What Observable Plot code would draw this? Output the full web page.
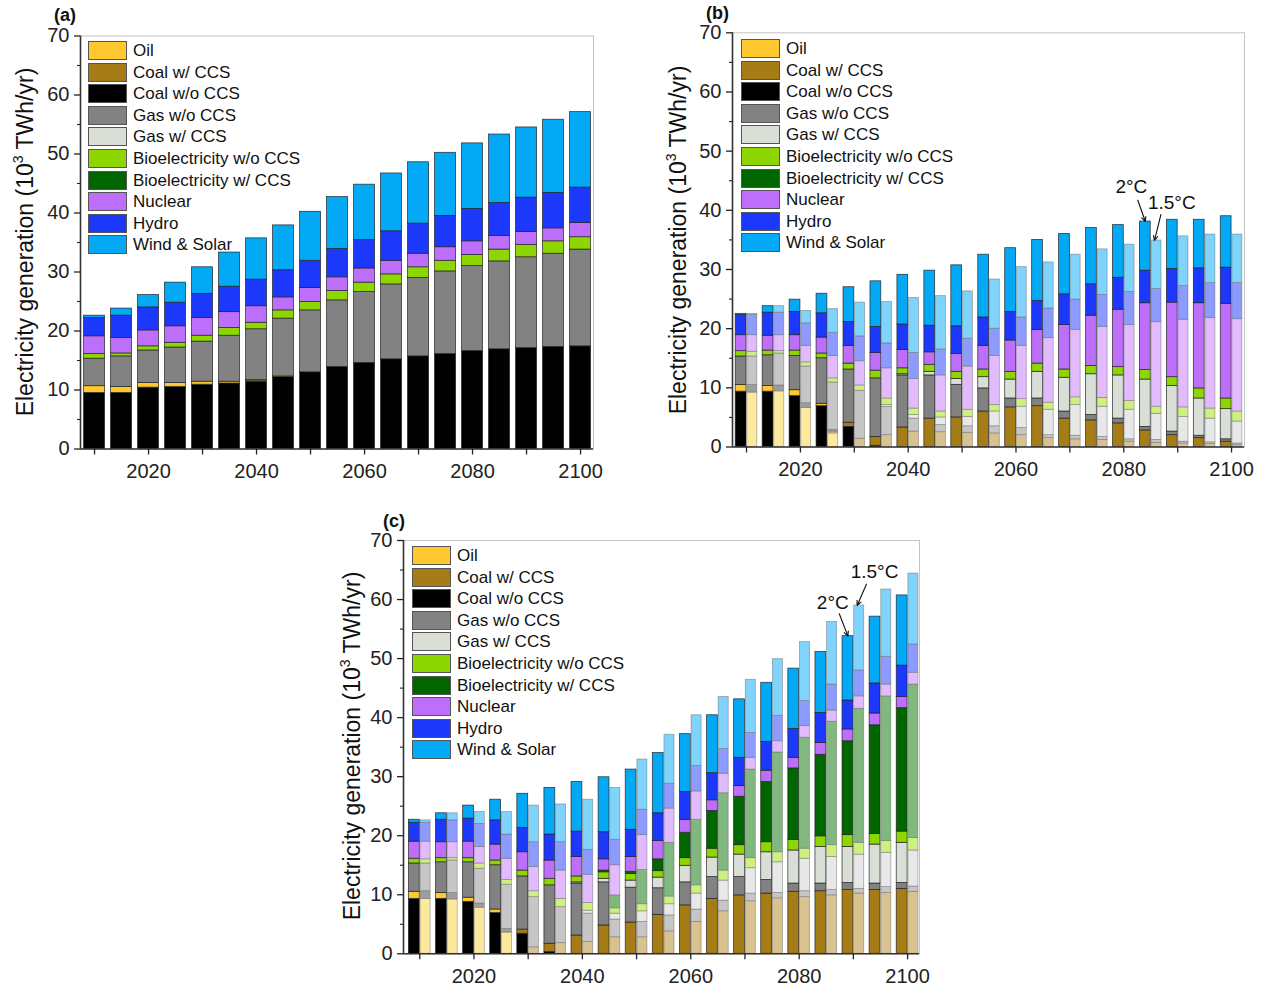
<!DOCTYPE html>
<html>
<head>
<meta charset="utf-8">
<script src="https://cdn.jsdelivr.net/npm/d3@7"></script>
<script src="https://cdn.jsdelivr.net/npm/@observablehq/plot@0.6"></script>
<style>
  body { margin: 0; background: #fff; font-family: "Liberation Sans", Arial, sans-serif; }
  #page { position: relative; width: 1262px; height: 988px; overflow: hidden; background: #fff; }
  .panel { position: absolute; }
  .legend { position: absolute; font-size: 17px; color: #111; }
  .legend .item { position: absolute; left: 0; height: 20px; white-space: nowrap; }
  .legend .sw { position: absolute; left: 0; top: 0; width: 39px; height: 19px; box-sizing: border-box; border: 1px solid #555; }
  .legend .lab { position: absolute; left: 45px; top: -1px; line-height: 21px; }
  .ytitle { position: absolute; font-size: 23px; color: #111; white-space: nowrap; transform: translate(-50%, -50%) rotate(-90deg); }
  .ytitle sup { font-size: 14px; vertical-align: 10px; line-height: 0; }
  .tag { position: absolute; font-size: 18px; font-weight: bold; color: #111; }
</style>
</head>
<body>
<div id="page"></div>
<script>
// Years shown on every panel (one bar, or a pair of bars, per year)
const years = [2010, 2015, 2020, 2025, 2030, 2035, 2040, 2045, 2050, 2055,
               2060, 2065, 2070, 2075, 2080, 2085, 2090, 2095, 2100];

// Legend order (top to bottom)
const legendOrder = ["Oil", "Coal w/ CCS", "Coal w/o CCS", "Gas w/o CCS", "Gas w/ CCS",
  "Bioelectricity w/o CCS", "Bioelectricity w/ CCS", "Nuclear", "Hydro", "Wind & Solar"];

// Stacking order (bottom to top); every data row below follows this column order
const stackOrder = ["Coal w/o CCS", "Coal w/ CCS", "Oil", "Gas w/o CCS", "Gas w/ CCS",
  "Bioelectricity w/o CCS", "Bioelectricity w/ CCS", "Nuclear", "Hydro", "Wind & Solar"];

// (a) baseline generation, 10^3 TWh/yr
const baselineMix = [
  [9.5, 0, 1.15, 4.65, 0, 0.8, 0, 3.0, 3.1, 0.4],
  [9.5, 0, 1.0, 5.2, 0, 0.5, 0, 2.6, 3.8, 1.2],
  [10.4, 0, 0.8, 5.5, 0, 0.7, 0, 2.7, 3.9, 2.1],
  [10.5, 0, 0.7, 6.0, 0, 0.8, 0, 2.8, 4.0, 3.4],
  [10.9, 0, 0.5, 6.8, 0, 1.0, 0, 3.0, 4.1, 4.5],
  [11.1, 0, 0.3, 7.8, 0, 1.3, 0, 2.7, 4.3, 5.8],
  [11.4, 0.1, 0.2, 8.6, 0, 1.1, 0, 2.8, 4.5, 7.0],
  [12.2, 0, 0.1, 9.8, 0, 1.4, 0, 2.2, 4.6, 7.6],
  [13.0, 0, 0, 10.5, 0, 1.4, 0, 2.4, 4.6, 8.3],
  [13.9, 0, 0, 11.3, 0, 1.6, 0, 2.3, 4.8, 8.8],
  [14.6, 0, 0, 12.0, 0, 1.6, 0, 2.4, 4.8, 9.4],
  [15.2, 0, 0, 12.7, 0, 1.7, 0, 2.3, 5.0, 9.8],
  [15.7, 0, 0, 13.3, 0, 1.8, 0, 2.3, 5.1, 10.4],
  [16.1, 0, 0, 14.0, 0, 1.8, 0, 2.3, 5.3, 10.7],
  [16.6, 0, 0, 14.4, 0, 1.9, 0, 2.3, 5.5, 11.1],
  [16.9, 0, 0, 14.9, 0, 2.0, 0, 2.3, 5.6, 11.6],
  [17.1, 0, 0, 15.4, 0, 2.1, 0, 2.2, 5.8, 11.9],
  [17.3, 0, 0, 15.8, 0, 2.1, 0, 2.2, 6.0, 12.4],
  [17.4, 0, 0, 16.4, 0, 2.1, 0, 2.4, 6.0, 12.8]
];

// (b) 2°C pathway
const mixB2C = [
  [9.35, 0, 1.15, 4.8, 0, 0.9, 0, 2.7, 3.4, 0.2],
  [9.35, 0, 0.95, 5.2, 0, 0.8, 0, 2.5, 3.9, 1.1],
  [8.6, 0, 1.0, 5.8, 0, 0.9, 0, 2.6, 3.9, 2.1],
  [6.9, 0, 0.4, 7.7, 0, 0.8, 0, 2.7, 4.1, 3.3],
  [3.4, 0.7, 0, 9.0, 0, 1.0, 0, 3.0, 4.0, 5.9],
  [0.2, 1.5, 0, 9.9, 0, 1.3, 0, 3.0, 4.4, 7.7],
  [0, 3.3, 0, 8.8, 0.2, 1.0, 0, 3.1, 4.3, 8.4],
  [0, 4.8, 0, 7.3, 0.6, 1.2, 0, 2.1, 4.5, 9.3],
  [0, 5.0, 0, 5.5, 1.0, 1.2, 0, 3.0, 4.7, 10.3],
  [0, 6.0, 0, 3.9, 1.9, 1.3, 0, 4.0, 4.8, 10.6],
  [0, 6.7, 0, 1.5, 3.2, 1.3, 0, 5.3, 4.8, 10.8],
  [0, 6.9, 0, 1.3, 4.5, 1.4, 0, 5.7, 4.9, 10.3],
  [0, 4.8, 0, 1.2, 5.7, 1.4, 0, 7.5, 5.2, 10.2],
  [0, 4.5, 0, 0.9, 6.9, 1.4, 0, 8.5, 5.3, 9.5],
  [0, 4.0, 0, 0.8, 7.3, 1.4, 0, 9.7, 5.4, 8.9],
  [0, 2.8, 0, 0.6, 8.0, 1.6, 0, 11.3, 5.5, 8.3],
  [0, 2.0, 0, 0.6, 7.7, 1.5, 0, 12.6, 5.7, 8.3],
  [0, 1.5, 0, 0.4, 6.3, 1.7, 0, 14.4, 5.9, 8.2],
  [0, 0.9, 0, 0.4, 5.1, 1.8, 0, 16.0, 6.1, 8.7]
];

// (b) 1.5°C pathway
const mixB15C = [
  [9.2, 0, 1.3, 4.8, 0, 0.8, 0, 2.8, 3.4, 0.2],
  [9.4, 0, 1.0, 5.4, 0, 0.4, 0, 2.7, 3.8, 1.1],
  [6.6, 0, 0.8, 6.2, 0, 0.7, 0, 2.8, 3.8, 2.1],
  [2.3, 0.3, 0.3, 8.0, 0, 0.7, 0, 3.8, 3.9, 4.0],
  [0, 1.4, 0, 8.1, 0, 0.9, 0, 4.1, 4.2, 5.7],
  [0, 2.0, 0, 4.8, 0.3, 1.1, 0, 5.1, 4.2, 7.0],
  [0, 2.6, 0, 2.2, 0.6, 1.1, 0, 5.0, 4.4, 9.3],
  [0, 2.5, 0, 1.2, 1.3, 1.0, 0, 6.1, 4.4, 9.0],
  [0, 2.4, 0, 1.1, 1.6, 1.2, 0, 7.3, 4.7, 8.0],
  [0, 2.3, 0, 1.2, 2.5, 1.1, 0, 8.3, 4.6, 8.3],
  [0, 2.0, 0, 1.2, 3.6, 1.3, 0, 9.0, 4.8, 8.5],
  [0, 1.5, 0, 0.5, 4.3, 1.2, 0, 10.9, 5.0, 7.8],
  [0, 1.3, 0, 0.6, 5.2, 1.3, 0, 11.4, 5.1, 7.6],
  [0, 1.2, 0, 0.5, 5.1, 1.5, 0, 12.0, 5.4, 7.7],
  [0, 0.9, 0, 0.4, 5.0, 1.5, 0, 12.8, 5.6, 8.0],
  [0, 0.7, 0, 0.5, 4.4, 1.2, 0, 14.3, 5.6, 8.2],
  [0, 0.6, 0, 0.3, 4.2, 1.6, 0, 14.8, 5.7, 8.4],
  [0, 0.5, 0, 0.3, 4.0, 1.7, 0, 15.3, 5.9, 8.2],
  [0, 0.3, 0, 0.3, 3.7, 1.7, 0, 15.6, 6.1, 8.2]
];

// (c) 2°C pathway
const mixC2C = [
  [9.3, 0, 1.2, 4.8, 0, 0.8, 0, 2.9, 3.2, 0.5],
  [9.3, 0, 1.0, 5.2, 0, 0.7, 0, 2.7, 3.8, 1.1],
  [8.8, 0, 0.7, 6.0, 0, 0.7, 0, 2.8, 3.9, 2.2],
  [6.9, 0, 0.6, 7.5, 0, 0.8, 0, 2.7, 4.1, 3.5],
  [3.4, 0.7, 0, 9.0, 0, 1.0, 0, 3.1, 4.1, 5.8],
  [0.3, 1.4, 0, 9.9, 0, 1.1, 0, 3.1, 4.4, 7.9],
  [0, 3.1, 0, 8.8, 0.2, 1.0, 0, 3.3, 4.3, 8.4],
  [0, 4.8, 0, 7.3, 0.6, 1.1, 0.3, 1.9, 4.6, 9.3],
  [0, 5.3, 0, 5.9, 1.2, 1.1, 0.4, 2.5, 4.6, 10.2],
  [0, 6.6, 0, 4.5, 1.8, 1.1, 2.0, 3.1, 4.7, 10.2],
  [0, 8.2, 0, 3.9, 2.8, 1.3, 4.3, 2.2, 4.7, 9.8],
  [0, 9.3, 0, 3.7, 3.3, 1.5, 6.4, 1.8, 4.6, 9.8],
  [0, 9.9, 0, 3.1, 3.8, 1.6, 8.2, 1.8, 4.8, 9.9],
  [0, 10.2, 0, 2.3, 4.7, 1.7, 10.2, 1.9, 4.9, 10.0],
  [0, 10.5, 0, 1.4, 5.6, 1.8, 12.1, 1.8, 4.9, 10.2],
  [0, 10.6, 0, 1.3, 6.2, 1.8, 13.8, 2.0, 5.1, 10.3],
  [0, 10.8, 0, 1.2, 6.1, 2.0, 15.9, 2.0, 4.9, 10.9],
  [0, 10.8, 0, 1.1, 6.6, 1.8, 18.4, 2.0, 5.1, 11.3],
  [0, 11.0, 0, 1.0, 6.8, 1.9, 20.9, 1.9, 5.3, 11.9]
];

// (c) 1.5°C pathway
const mixC15C = [
  [9.3, 0, 1.3, 4.7, 0, 0.7, 0, 3.0, 3.2, 0.4],
  [9.2, 0, 1.1, 5.5, 0, 0.4, 0, 2.7, 3.7, 1.2],
  [7.8, 0, 0.7, 5.9, 0, 0.9, 0, 2.8, 3.9, 2.0],
  [3.6, 0, 0.6, 7.5, 0, 0.8, 0, 3.6, 4.1, 3.8],
  [0, 1.1, 0, 8.5, 0, 1.0, 0, 4.1, 4.2, 6.2],
  [0, 1.8, 0, 6.1, 0, 1.4, 0, 4.8, 4.8, 6.4],
  [0, 2.0, 0, 4.8, 0.5, 1.3, 0, 4.8, 4.2, 8.5],
  [0, 2.8, 0, 3.0, 1.0, 0.9, 2.2, 5.1, 4.3, 8.8],
  [0, 2.8, 0, 2.6, 1.8, 1.2, 5.8, 5.9, 4.3, 8.5],
  [0, 3.8, 0, 2.7, 1.9, 1.3, 9.1, 5.8, 4.2, 8.3],
  [0, 5.4, 0, 2.1, 2.7, 1.4, 11.1, 4.8, 4.3, 8.6],
  [0, 7.2, 0, 1.8, 3.4, 1.7, 13.1, 3.3, 4.2, 8.8],
  [0, 8.9, 0, 1.3, 4.3, 1.7, 15.0, 2.0, 4.2, 9.0],
  [0, 9.4, 0, 0.9, 5.2, 1.7, 16.9, 1.9, 4.3, 9.6],
  [0, 9.6, 0, 1.0, 5.5, 1.7, 18.8, 2.0, 4.2, 10.0],
  [0, 9.9, 0, 0.9, 5.6, 2.0, 20.9, 1.9, 4.4, 10.6],
  [0, 10.2, 0, 0.8, 5.8, 2.0, 22.7, 2.1, 4.4, 11.0],
  [0, 10.3, 0, 1.0, 5.8, 2.0, 24.5, 2.0, 4.7, 11.4],
  [0, 10.5, 0, 0.9, 6.1, 2.1, 26.0, 2.0, 4.8, 12.0]
];

// Tick values
const xTicks = [2010, 2020, 2030, 2040, 2050, 2060, 2070, 2080, 2090, 2100];
const yTicks = [0, 10, 20, 30, 40, 50, 60, 70];
const yMinorTicks = [5, 15, 25, 35, 45, 55, 65];

// Colours: full-strength for the 2°C / baseline bars, pale for the 1.5°C bars
const paletteStrong = {
  "Oil": "#fec82e", "Coal w/ CCS": "#a67c17", "Coal w/o CCS": "#000000",
  "Gas w/o CCS": "#828282", "Gas w/ CCS": "#d9dfd7", "Bioelectricity w/o CCS": "#8dd602",
  "Bioelectricity w/ CCS": "#006600", "Nuclear": "#bd6ffb", "Hydro": "#1c38fb", "Wind & Solar": "#03a9f5"
};
const palettePale = {
  "Oil": "#9d9d9d", "Coal w/ CCS": "#d8c28f", "Coal w/o CCS": "#fde99d",
  "Gas w/o CCS": "#c6c6c6", "Gas w/ CCS": "#e8e8e8", "Bioelectricity w/o CCS": "#cdf07f",
  "Bioelectricity w/ CCS": "#80b880", "Nuclear": "#e2bbff", "Hydro": "#8c9bfd", "Wind & Solar": "#80d3fa"
};

// Turn a year-by-technology table into stacked segments
function stackRows(rows) {
  const out = [];
  rows.forEach((row, i) => {
    let base = 0;
    row.forEach((v, j) => {
      if (v > 0) out.push({year: years[i], cat: stackOrder[j], y1: base, y2: base + v});
      base += v;
    });
  });
  return out;
}
function totals(rows) {
  return rows.map((row, i) => ({year: years[i], total: d3.sum(row)}));
}

const page = document.getElementById("page");

function drawPanel(cfg) {
  const marks = [Plot.frame({stroke: "#c4c4c4", strokeWidth: 1})];
  for (const s of cfg.series) {
    marks.push(Plot.rect(stackRows(s.rows), {
      x1: d => d.year + s.from, x2: d => d.year + s.to,
      y1: "y1", y2: "y2",
      fill: d => s.palette[d.cat],
      stroke: s.stroke, strokeWidth: 0.8, strokeOpacity: s.strokeOpacity
    }));
  }
  marks.push(
    Plot.ruleY([0], {stroke: "#333", strokeWidth: 1.6}),
    Plot.ruleX([cfg.xDomain[0]], {stroke: "#333", strokeWidth: 1.6}),
    Plot.axisX({ticks: xTicks, tickFormat: d => d % 20 === 0 ? String(d) : "",
      tickSize: 6, tickPadding: 8.5, strokeWidth: 1.3, label: null}),
    Plot.axisY({ticks: yTicks, tickFormat: d => String(d), tickSize: 6, tickPadding: 5,
      strokeWidth: 1.3, label: null}),
    Plot.axisY({ticks: yMinorTicks, tickFormat: () => "", tickSize: 3, strokeWidth: 1.1, label: null})
  );
  for (const a of (cfg.notes || [])) {
    const t = totals(a.rows).find(d => d.year === a.year);
    const tip = {x: a.year + a.tipDx, y: t.total};
    marks.push(
      Plot.arrow([tip], {x1: d => d.x + a.tailDx, y1: d => d.y + a.tailDy, x2: "x", y2: "y",
        stroke: "#111", strokeWidth: 1.1, headLength: 7, headAngle: 50}),
      Plot.text([tip], {x: d => d.x + a.textDx, y: d => d.y + a.textDy, text: () => a.label,
        fontSize: 19, fill: "#111"})
    );
  }
  const svg = Plot.plot({
    width: cfg.width, height: cfg.height,
    marginTop: cfg.margin[0], marginRight: cfg.margin[1], marginBottom: cfg.margin[2], marginLeft: cfg.margin[3],
    x: {domain: cfg.xDomain, axis: null},
    y: {domain: [0, 70], axis: null},
    color: {type: "identity"},
    style: {fontFamily: "'Liberation Sans', Arial, sans-serif", fontSize: "20px", color: "#222",
      background: "transparent", overflow: "visible"},
    marks
  });
  const wrap = document.createElement("div");
  wrap.className = "panel";
  wrap.style.left = cfg.left + "px";
  wrap.style.top = cfg.top + "px";
  wrap.style.width = cfg.width + "px";
  wrap.style.height = cfg.height + "px";
  wrap.appendChild(svg);
  page.appendChild(wrap);

  // legend inside the plot area
  const lg = document.createElement("div");
  lg.className = "legend";
  lg.style.left = cfg.legend[0] + "px";
  lg.style.top = cfg.legend[1] + "px";
  legendOrder.forEach((name, i) => {
    const it = document.createElement("div");
    it.className = "item";
    it.style.top = (i * 21.6) + "px";
    const sw = document.createElement("div");
    sw.className = "sw";
    sw.style.background = paletteStrong[name];
    const lab = document.createElement("div");
    lab.className = "lab";
    lab.textContent = name;
    it.appendChild(sw); it.appendChild(lab);
    lg.appendChild(it);
  });
  page.appendChild(lg);

  // y-axis title
  const yt = document.createElement("div");
  yt.className = "ytitle";
  yt.style.left = cfg.yTitle[0] + "px";
  yt.style.top = cfg.yTitle[1] + "px";
  yt.innerHTML = "Electricity generation (10<sup>3</sup> TWh/yr)";
  page.appendChild(yt);

  // panel tag
  const tg = document.createElement("div");
  tg.className = "tag";
  tg.style.left = cfg.tag[0] + "px";
  tg.style.top = cfg.tag[1] + "px";
  tg.textContent = cfg.tagText;
  page.appendChild(tg);
}

const strong = (rows, from, to) => ({rows, from, to, palette: paletteStrong, stroke: "#222", strokeOpacity: 0.85});
const pale = (rows, from, to) => ({rows, from, to, palette: palettePale, stroke: "#666", strokeOpacity: 0.55});

drawPanel({
  left: 0, top: 0, width: 620, height: 495, margin: [35.5, 27, 46.5, 80],
  xDomain: [2007.4, 2102.4],
  series: [strong(baselineMix, -1.95, 1.95)],
  legend: [88, 41], yTitle: [25, 242], tag: [54, 5], tagText: "(a)"
});

drawPanel({
  left: 640, top: 0, width: 620, height: 495, margin: [32.3, 16, 48.5, 92],
  xDomain: [2007.4, 2102.4],
  series: [strong(mixB2C, -2.0, 0), pale(mixB15C, 0.15, 2.0)],
  notes: [
    {rows: mixB2C, year: 2085, label: "2°C", tipDx: -1.0, tailDx: -1.4, tailDy: 3.6, textDx: -2.6, textDy: 5.8},
    {rows: mixB15C, year: 2085, label: "1.5°C", tipDx: 0.7, tailDx: 1.2, tailDy: 4.4, textDx: 3.2, textDy: 6.4}
  ],
  legend: [741, 39], yTitle: [678, 240], tag: [706, 3], tagText: "(b)"
});

drawPanel({
  left: 320, top: 500, width: 620, height: 488, margin: [40, 21, 34.7, 83],
  xDomain: [2007.0, 2102.2],
  series: [strong(mixC2C, -2.0, 0), pale(mixC15C, 0.15, 2.0)],
  notes: [
    {rows: mixC2C, year: 2090, label: "2°C", tipDx: -1.0, tailDx: -1.6, tailDy: 3.8, textDx: -2.8, textDy: 5.6},
    {rows: mixC15C, year: 2090, label: "1.5°C", tipDx: 0.7, tailDx: 1.7, tailDy: 3.6, textDx: 3.2, textDy: 5.6}
  ],
  legend: [412, 546], yTitle: [352, 746], tag: [383, 511], tagText: "(c)"
});
</script>
</body>
</html>
